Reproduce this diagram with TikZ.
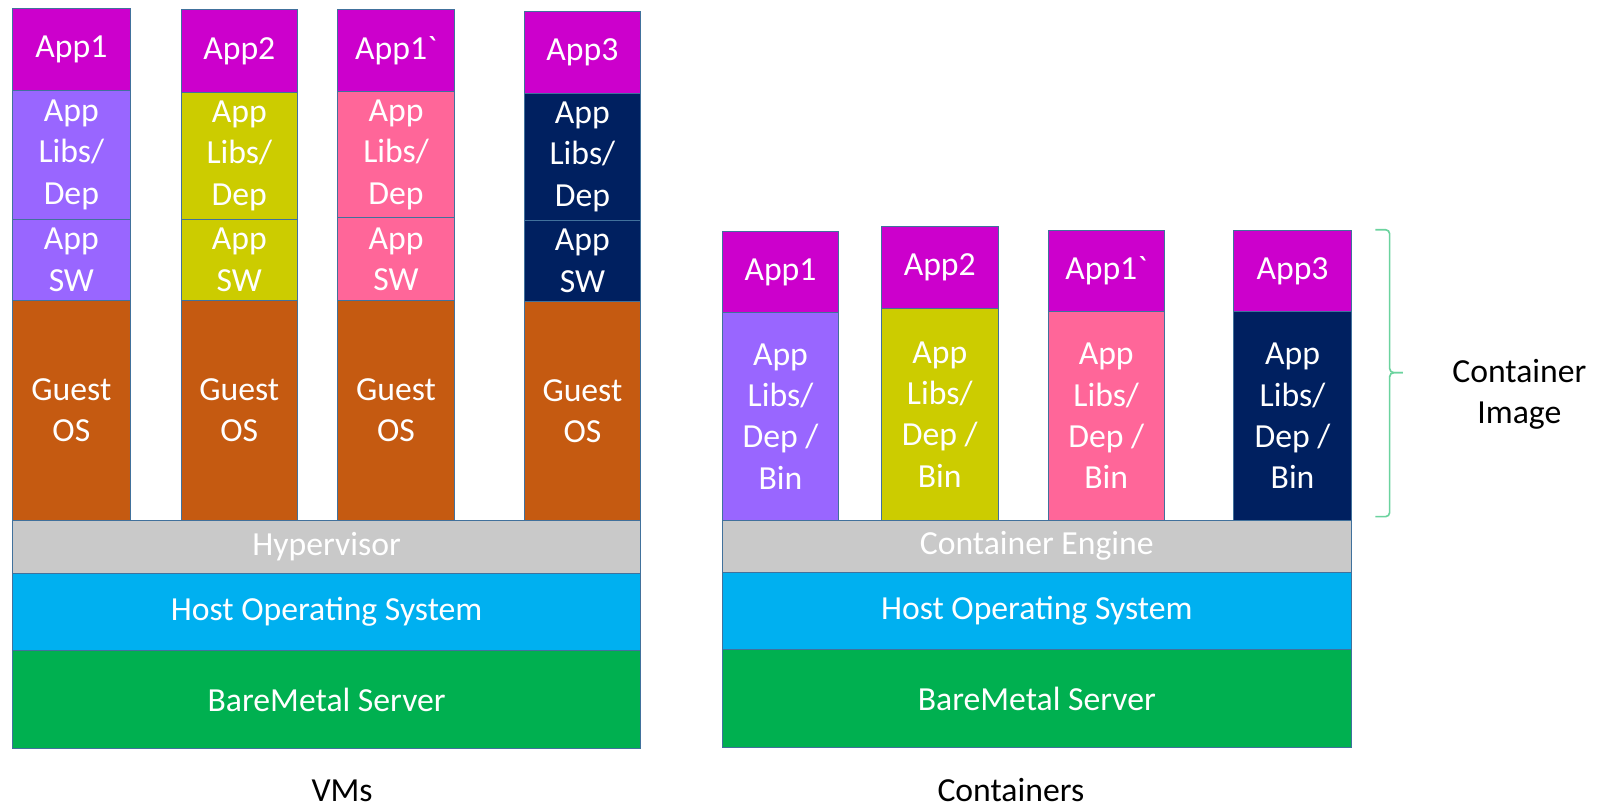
\documentclass[tikz,border=0pt]{standalone}
\usepackage{fontspec}
\setmainfont{Carlito}
\definecolor{appMag}{HTML}{CC00CC}
\definecolor{libPurple}{HTML}{9966FF}
\definecolor{libOlive}{HTML}{CCCC00}
\definecolor{libPink}{HTML}{FF6699}
\definecolor{libNavy}{HTML}{002060}
\definecolor{guestBrown}{HTML}{C55A11}
\definecolor{layerGray}{HTML}{C9C9C9}
\definecolor{hostBlue}{HTML}{00B0F0}
\definecolor{metalGreen}{HTML}{00B050}
\definecolor{edgeBlue}{HTML}{41719C}
\definecolor{braceGreen}{HTML}{6BD39E}
\begin{document}
\begin{tikzpicture}[x=1pt, y=-1pt,
    blk/.style={draw=edgeBlue, line width=0.8pt, anchor=north west, inner sep=0pt,
      align=center, text=white, font=\fontsize{33}{40.5}\selectfont},
    lbl/.style={text=black, align=center, font=\fontsize{33}{40.5}\selectfont},
    title/.style={text=black, anchor=base, inner sep=0pt, font=\fontsize{33}{40.5}\selectfont}]
    \useasboundingbox (0,0) rectangle (1568,791);
    % VMs: column 1
    \node[blk, fill=appMag, minimum width=115pt, minimum height=80pt] (vmAppA) at (12,8) {App1};
    \node[blk, fill=libPurple, minimum width=115pt, minimum height=126pt] (vmLibA) at (12,88) {App\\Libs/\\Dep};
    \node[blk, fill=libPurple, minimum width=115pt, minimum height=80pt] (vmSwA) at (12,214) {App\\SW};
    \node[blk, fill=guestBrown, minimum width=115pt, minimum height=215pt] (vmOsA) at (12,294) {Guest\\OS};
    % VMs: column 2
    \node[blk, fill=appMag, minimum width=114pt, minimum height=81pt] (vmAppB) at (177,9) {App2};
    \node[blk, fill=libOlive, minimum width=114pt, minimum height=124pt] (vmLibB) at (177,90) {App\\Libs/\\Dep};
    \node[blk, fill=libOlive, minimum width=114pt, minimum height=80pt] (vmSwB) at (177,214) {App\\SW};
    \node[blk, fill=guestBrown, minimum width=114pt, minimum height=215pt] (vmOsB) at (177,294) {Guest\\OS};
    % VMs: column 3
    \node[blk, fill=appMag, minimum width=115pt, minimum height=80pt] (vmAppC) at (330,9) {App1\textasciigrave};
    \node[blk, fill=libPink, minimum width=115pt, minimum height=124pt] (vmLibC) at (330,89) {App\\Libs/\\Dep};
    \node[blk, fill=libPink, minimum width=115pt, minimum height=81pt] (vmSwC) at (330,213) {App\\SW};
    \node[blk, fill=guestBrown, minimum width=115pt, minimum height=215pt] (vmOsC) at (330,294) {Guest\\OS};
    % VMs: column 4
    \node[blk, fill=appMag, minimum width=114pt, minimum height=80pt] (vmAppD) at (513,11) {App3};
    \node[blk, fill=libNavy, minimum width=114pt, minimum height=124pt] (vmLibD) at (513,91) {App\\Libs/\\Dep};
    \node[blk, fill=libNavy, minimum width=114pt, minimum height=80pt] (vmSwD) at (513,215) {App\\SW};
    \node[blk, fill=guestBrown, minimum width=114pt, minimum height=214pt] (vmOsD) at (513,295) {Guest\\OS};
    % VMs: shared layers
    \node[blk, fill=layerGray, minimum width=615pt, minimum height=52pt] (hyper) at (12,509) {Hypervisor};
    \node[blk, fill=hostBlue, minimum width=615pt, minimum height=76pt] (vmHost) at (12,561) {Host Operating System};
    \node[blk, fill=metalGreen, minimum width=615pt, minimum height=96pt] (vmMetal) at (12,637) {BareMetal Server};
    \node[title] (vmTitle) at (335,785) {VMs};
    % Containers: columns
    \node[blk, fill=appMag, minimum width=114pt, minimum height=80pt] (ctAppA) at (707,226) {App1};
    \node[blk, fill=libPurple, minimum width=114pt, minimum height=203pt] (ctLibA) at (707,306) {App\\Libs/\\Dep /\\Bin};
    \node[blk, fill=appMag, minimum width=114pt, minimum height=81pt] (ctAppB) at (863,221) {App2};
    \node[blk, fill=libOlive, minimum width=114pt, minimum height=207pt] (ctLibB) at (863,302) {App\\Libs/\\Dep /\\Bin};
    \node[blk, fill=appMag, minimum width=114pt, minimum height=80pt] (ctAppC) at (1026,225) {App1\textasciigrave};
    \node[blk, fill=libPink, minimum width=114pt, minimum height=204pt] (ctLibC) at (1026,305) {App\\Libs/\\Dep /\\Bin};
    \node[blk, fill=appMag, minimum width=115pt, minimum height=80pt] (ctAppD) at (1208,225) {App3};
    \node[blk, fill=libNavy, minimum width=115pt, minimum height=204pt] (ctLibD) at (1208,305) {App\\Libs/\\Dep /\\Bin};
    % Containers: shared layers
    \node[blk, fill=layerGray, minimum width=616pt, minimum height=51pt] (engine) at (707,509) {Container Engine};
    \node[blk, fill=hostBlue, minimum width=616pt, minimum height=76pt] (ctHost) at (707,560) {Host Operating System};
    \node[blk, fill=metalGreen, minimum width=616pt, minimum height=96pt] (ctMetal) at (707,636) {BareMetal Server};
    \node[title] (ctTitle) at (990,785) {Containers};
    % Container image brace
    \coordinate (braceTop) at (1347,225);
    \coordinate (braceBot) at (1347,506);
    \coordinate (braceTip) at (1374,365);
    \draw[braceGreen, line width=1.6pt, rounded corners=4pt]
      (braceTop) -- (1361,225) -- (1361,365) -- (braceTip);
    \draw[braceGreen, line width=1.6pt, rounded corners=4pt]
      (braceTip) -- (1361,365) -- (1361,506) -- (braceBot);
    \node[lbl] (imgLabel) at (1488,386) {Container\\Image};
\end{tikzpicture}
\end{document}
